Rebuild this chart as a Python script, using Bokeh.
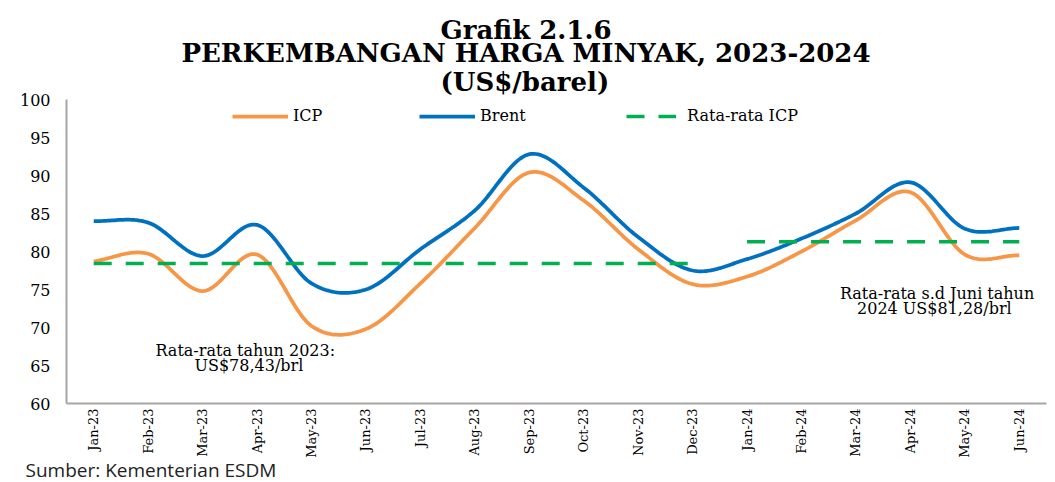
import numpy as np
from bokeh.plotting import figure
from bokeh.models import Legend, LegendItem, Label, Title, FixedTicker, Range1d
from bokeh.embed import file_html
from bokeh.resources import INLINE

# ---------------- data ----------------
months = ["Jan-23", "Feb-23", "Mar-23", "Apr-23", "May-23", "Jun-23",
          "Jul-23", "Aug-23", "Sep-23", "Oct-23", "Nov-23", "Dec-23",
          "Jan-24", "Feb-24", "Mar-24", "Apr-24", "May-24", "Jun-24"]
icp = [78.7, 79.7, 74.8, 79.6, 70.2, 69.8, 75.8, 83.1, 90.4, 86.7, 80.3, 75.7,
       76.7, 80.0, 84.1, 87.8, 79.6, 79.5]
brent = [84.0, 83.8, 79.4, 83.5, 75.8, 75.0, 80.3, 85.4, 92.8, 88.4, 81.9, 77.5,
         79.0, 81.7, 85.0, 89.1, 83.0, 83.1]
avg_2023 = 78.43
avg_2024 = 81.28
y_ticks = [60, 65, 70, 75, 80, 85, 90, 95, 100]

SERIF = "DejaVu Serif"


def smooth(values, n=24):
    """Catmull-Rom curve through the points (like Excel smoothed lines)."""
    y = np.asarray(values, dtype=float)
    x = np.arange(len(y), dtype=float)
    px = np.concatenate([[2 * x[0] - x[1]], x, [2 * x[-1] - x[-2]]])
    py = np.concatenate([[2 * y[0] - y[1]], y, [2 * y[-1] - y[-2]]])
    xs, ys = [], []
    t = np.linspace(0, 1, n, endpoint=False)
    for i in range(1, len(px) - 2):
        for arr, out in ((px, xs), (py, ys)):
            p0, p1, p2, p3 = arr[i - 1], arr[i], arr[i + 1], arr[i + 2]
            out.extend(0.5 * (2 * p1 + (-p0 + p2) * t
                              + (2 * p0 - 5 * p1 + 4 * p2 - p3) * t ** 2
                              + (-p0 + 3 * p1 - 3 * p2 + p3) * t ** 3))
    xs.append(x[-1])
    ys.append(y[-1])
    return xs, ys


p = figure(width=1047, height=482, output_backend="svg", toolbar_location=None,
           x_range=Range1d(-0.5, len(months) - 0.5), y_range=Range1d(60, 100),
           min_border_left=66, min_border_right=1, min_border_top=99, min_border_bottom=79)
p.outline_line_color = None
p.xgrid.visible = False
p.ygrid.visible = False
p.background_fill_color = "white"
p.border_fill_color = "white"

# titles (first added = closest to the plot)
for txt, so, off in [("(US$/barel)", 5, 374),
                     ("PERKEMBANGAN HARGA MINYAK, 2023-2024", -11, 115),
                     ("Grafik 2.1.6", -6, 374)]:
    p.add_layout(Title(text=txt, align="left", text_font=SERIF, text_font_size="26px",
                       text_font_style="bold", text_color="black", standoff=so,
                       offset=off), "above")

p.add_layout(Title(text="Sumber: Kementerian ESDM", align="left", text_font="Open Sans",
                   text_font_size="19px", text_font_style="normal", text_color="#222222",
                   offset=-41, standoff=-11), "below")

sx, sy = smooth(icp)
r_icp = p.line(sx, sy, line_color="#F79646", line_width=3.75)
bx, by = smooth(brent)
r_brent = p.line(bx, by, line_color="#0070C0", line_width=3.75)

n23 = sum(1 for m in months if m.endswith("23"))
r_avg = p.line([0, n23 - 1], [avg_2023, avg_2023], line_color="#00B050", line_width=3.5,
               line_dash="18 14")
p.line([n23, len(months) - 1], [avg_2024, avg_2024], line_color="#00B050", line_width=3.5,
       line_dash="18 14")

# axes
p.xaxis.ticker = FixedTicker(ticks=list(range(len(months))))
p.xaxis.major_label_overrides = {i: m for i, m in enumerate(months)}
p.xaxis.major_label_orientation = np.pi / 2
p.xaxis.major_label_text_font = SERIF
p.xaxis.major_label_text_font_size = "13px"
p.xaxis.major_label_text_color = "black"
p.xaxis.major_label_standoff = 5
p.xaxis.major_tick_line_color = None
p.xaxis.major_tick_out = 0
p.xaxis.major_tick_in = 0
p.xaxis.minor_tick_line_color = None
p.xaxis.axis_line_color = "#A6A6A6"
p.xaxis.axis_line_width = 2

p.yaxis.ticker = FixedTicker(ticks=y_ticks)
p.yaxis.major_label_text_font = SERIF
p.yaxis.major_label_text_font_size = "16px"
p.yaxis.major_label_text_color = "black"
p.yaxis.major_label_standoff = 16
p.yaxis.major_tick_line_color = None
p.yaxis.major_tick_out = 0
p.yaxis.major_tick_in = 0
p.yaxis.minor_tick_line_color = None
p.yaxis.axis_line_color = "#A6A6A6"
p.yaxis.axis_line_width = 2

# legends (one per entry, placed like the original)
for r, lab, loc, gw, so in [(r_icp, "ICP", (166, 278), 56, 5),
                            (r_brent, "Brent", (353, 278), 56, 5),
                            (r_avg, "Rata-rata ICP", (560, 278), 50, 11)]:
    lg = Legend(items=[LegendItem(label=lab, renderers=[r])], location=loc,
                orientation="horizontal", glyph_width=gw, glyph_height=16,
                label_standoff=so, padding=0, margin=0, spacing=0,
                border_line_color=None, background_fill_alpha=0,
                label_text_font=SERIF, label_text_font_size="16px",
                label_text_color="black", label_height=16)
    p.add_layout(lg)

# annotations
for x, y, txt in [(2.83, 66.97, "Rata-rata  tahun 2023:"), (2.85, 65.0, "US$78,43/brl"),
                  (15.49, 74.5, "Rata-rata s.d Juni tahun"), (15.44, 72.46, "2024 US$81,28/brl")]:
    p.add_layout(Label(x=x, y=y, text=txt, text_align="center", text_baseline="middle",
                       text_font=SERIF, text_font_size="16px", text_color="black"))

open("out.html", "w").write(file_html(p, INLINE))
